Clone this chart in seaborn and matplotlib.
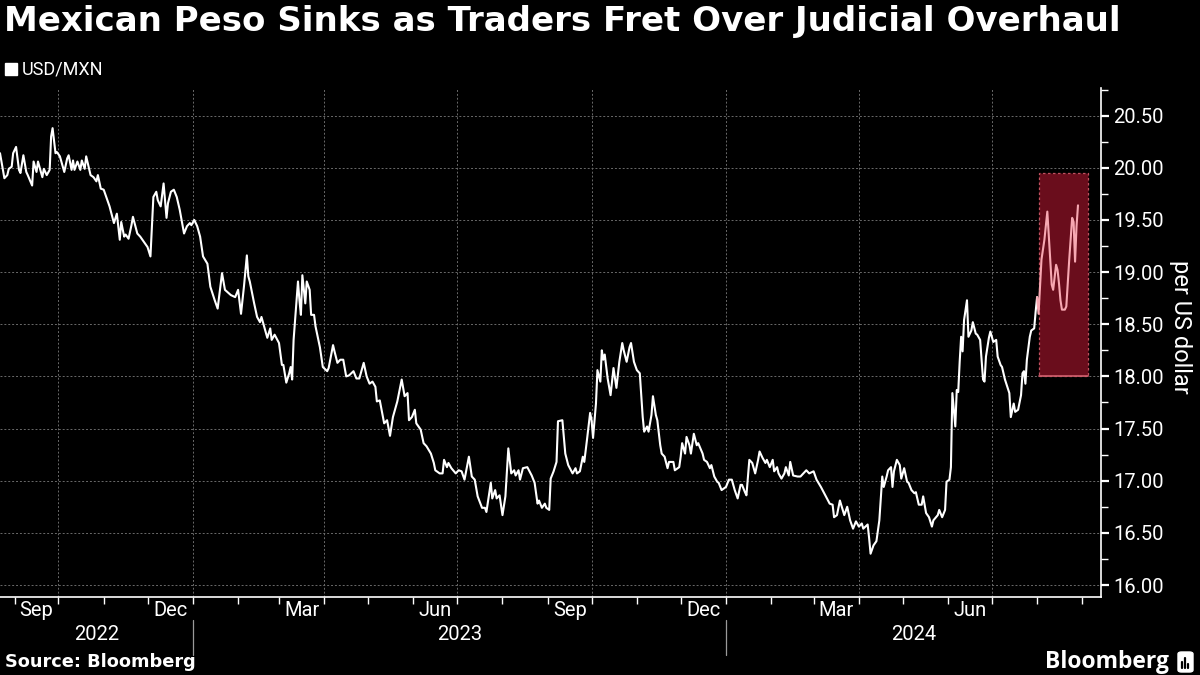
import numpy as np
import pandas as pd
import matplotlib
matplotlib.use("Agg")
import matplotlib.pyplot as plt
import matplotlib.dates as mdates
from matplotlib.patches import Rectangle, FancyBboxPatch
from matplotlib.lines import Line2D
from matplotlib.transforms import blended_transform_factory
import seaborn as sns

# ---------------- data ----------------
TITLE = "Mexican Peso Sinks as Traders Fret Over Judicial Overhaul"
SERIES = "USD/MXN"
SOURCE = "Source: Bloomberg"
BRAND = "Bloomberg"
Y_LABEL = "per US dollar"

START_DATE = "2022-09-01"          # day offsets below are counted from this date
X_MIN = "2022-08-22"
X_MAX = "2024-09-13 18:00"

day_offsets = [
    -10, -7, -5, -4, -2, -1, 1, 3, 4, 6, 8, 9, 12, 13, 15, 16, 17, 19, 20, 22, 24, 25, 26, 28, 29, 31,
    34, 36, 37, 39, 40, 41, 43, 45, 46, 48, 49, 52, 54, 56, 57, 59, 61, 63, 65, 68, 70, 72, 73, 75, 76,
    78, 80, 81, 84, 86, 89, 91, 93, 95, 97, 98, 100, 102, 104, 105, 107, 109, 111, 113, 116, 118, 120,
    121, 123, 125, 127, 129, 132, 134, 137, 139, 142, 144, 148, 151, 153, 155, 157, 159, 160, 161, 164,
    166, 168, 169,
    173, 175, 176, 178, 181, 183, 184, 186, 188, 189, 190, 191, 194, 195, 196, 197, 199, 200, 202, 203,
    205, 206, 209, 211, 214, 215, 218, 219, 221, 223, 225, 227, 229, 232, 234, 236, 239, 241, 243, 245,
    247, 248, 250, 253, 255, 257, 259, 262, 265, 267, 269, 270, 272, 274, 275, 278, 280, 282, 285, 287,
    288, 291, 293, 294, 296, 297, 299, 302, 304, 306, 308, 311, 313, 315, 317, 320, 322, 323, 326, 327,
    329, 330, 332, 334, 336, 338, 340, 342, 343, 345,
    346, 348, 351, 354, 356, 358, 359, 361, 363, 364, 366, 367, 369, 371, 372, 375, 377, 379, 382, 384,
    385, 387, 389, 390, 392, 394, 395, 396, 398, 399, 401, 402, 403, 404, 406, 408, 410, 412, 414, 416,
    417, 419, 421, 422, 424, 426, 428, 430, 431, 433, 434, 436, 437, 439, 440, 442, 443, 445, 447, 448,
    451, 452, 455, 456, 457, 459, 460, 462, 463, 465, 467, 468, 471, 472, 474, 476, 477, 479, 481, 482,
    484, 487, 489, 491, 493, 495, 497, 498, 500, 501, 503, 505, 507, 509, 510, 512, 514, 515, 517, 519,
    520, 522, 523, 525, 527, 528, 530, 531, 533, 536,
    538, 540, 542, 544, 547, 549, 552, 555, 558, 560, 561, 563, 565, 568, 570, 572, 574, 576, 578, 580,
    581, 584, 585, 586, 588, 590, 592, 594, 595, 597, 598, 600, 601, 602, 604, 606, 607, 609, 611, 612,
    614, 616, 617, 619, 621, 622, 624, 626, 628, 629, 632, 633, 635, 637, 638, 640, 641, 642, 644, 645,
    646, 647, 648, 649, 650, 652, 653, 655, 656, 658, 659, 661, 663, 664, 665, 667, 668, 670, 672, 673,
    675, 676, 678, 681, 682, 684, 685, 687, 689, 690, 691, 692, 693, 695, 696, 698, 699, 700,
    701, 703, 705, 707, 709, 710, 711, 713, 714, 715, 716, 717, 719, 720, 722, 724, 725, 726, 727, 728,
]

usd_mxn = [
    20.14, 19.90, 19.93, 19.99, 20.01, 20.14, 20.20, 19.98, 19.95, 20.12, 19.96, 19.93, 19.83, 20.06,
    19.96, 20.06, 20.01, 19.91, 19.99, 19.93, 19.98, 20.30, 20.38, 20.14, 20.15, 20.11,
    19.96, 20.09, 20.12, 19.98, 20.07, 19.98, 20.06, 19.98, 20.07, 19.99, 20.11, 19.93, 19.91, 19.87,
    19.93, 19.80, 19.79, 19.71, 19.63, 19.47, 19.56, 19.31, 19.48, 19.34, 19.36,
    19.32, 19.45, 19.53, 19.37, 19.34, 19.28, 19.24, 19.15, 19.72, 19.77, 19.69, 19.63, 19.85, 19.52,
    19.66, 19.77, 19.79, 19.72, 19.60, 19.37, 19.44, 19.47,
    19.45, 19.50, 19.44, 19.34, 19.15, 19.08, 18.86, 18.73, 18.65, 18.99, 18.83, 18.78, 18.76, 18.83,
    18.60, 18.86, 19.16, 18.96, 18.91, 18.70,
    18.57, 18.52, 18.57,
    18.37, 18.46, 18.35, 18.40, 18.32, 18.11, 18.11, 17.94, 18.03, 18.09, 17.97, 18.35, 18.91, 18.73,
    18.59, 18.97, 18.70, 18.91, 18.83, 18.59,
    18.59, 18.48, 18.28, 18.09, 18.05, 18.08, 18.30, 18.24, 18.13, 18.16, 18.16, 18.00, 18.01, 18.05,
    17.98, 17.98, 18.13, 18.00, 17.93, 17.95,
    17.90, 17.76, 17.77, 17.55, 17.58, 17.43, 17.61, 17.76, 17.97, 17.81, 17.84, 17.58, 17.61, 17.68,
    17.55, 17.49, 17.36, 17.33, 17.26, 17.17,
    17.10, 17.07, 17.07, 17.20, 17.13, 17.17, 17.12, 17.07, 17.10, 17.09, 17.01, 17.23, 17.04, 17.01,
    16.85, 16.74, 16.74, 16.70, 16.98, 16.83,
    16.91, 16.83, 16.86, 16.67, 16.85, 17.31, 17.07, 17.10, 17.05, 17.10,
    17.01, 17.12, 17.13, 17.05, 16.98, 16.78, 16.81, 16.74, 16.78, 16.74, 16.72, 17.02, 17.09, 17.18,
    17.57, 17.58, 17.26, 17.15, 17.07, 17.12,
    17.07, 17.09, 17.23, 17.18, 17.41, 17.65, 17.58, 17.41, 17.74, 18.06, 17.95, 18.25, 18.16, 18.21,
    17.98, 17.82, 18.08, 17.89, 18.14, 18.32,
    18.25, 18.14, 18.28, 18.32, 18.14, 18.06, 18.03, 17.61, 17.47, 17.52, 17.47, 17.63, 17.81, 17.63,
    17.58, 17.34, 17.26, 17.23, 17.12, 17.18,
    17.18, 17.10, 17.13, 17.23, 17.36, 17.26, 17.42, 17.34, 17.26, 17.45, 17.34, 17.36, 17.26, 17.20,
    17.18, 17.12, 17.15, 17.04, 16.99, 16.98,
    16.91, 16.94, 17.01, 17.01, 16.91, 16.83, 16.96, 16.96, 16.89, 16.86, 17.20, 17.17, 17.07, 17.20,
    17.28, 17.22, 17.17, 17.20, 17.13, 17.20,
    17.09, 17.13, 17.07, 17.02, 17.07, 17.13, 17.05, 17.18, 17.05, 17.04,
    17.04, 17.07, 17.10, 17.07, 17.09, 17.01, 16.94, 16.86, 16.78, 16.77, 16.65, 16.67, 16.81, 16.67,
    16.75, 16.62, 16.54, 16.61, 16.56, 16.59,
    16.54, 16.58, 16.45, 16.30, 16.38, 16.42, 16.62, 17.04, 16.94, 17.04, 17.10, 17.13, 16.94, 17.09,
    17.20, 17.15, 17.02, 17.12, 16.99, 16.98,
    16.91, 16.88, 16.89, 16.77, 16.77, 16.85, 16.69, 16.65, 16.56, 16.62, 16.67, 16.72, 16.65, 16.72,
    16.99, 17.01, 17.13, 17.84, 17.52, 17.87,
    17.85, 18.14, 18.38, 18.24, 18.54, 18.73, 18.38, 18.44, 18.52, 18.41, 18.40, 18.35, 17.97, 17.95,
    18.19, 18.37, 18.43, 18.33, 18.35, 18.19,
    18.11, 18.09, 17.97, 17.84, 17.61, 17.74, 17.66, 17.68, 17.82, 18.03, 18.05, 17.93, 18.16, 18.38,
    18.44, 18.46, 18.62, 18.76,
    18.60, 19.12, 19.31, 19.58, 19.12, 18.88, 18.83, 19.07, 19.02, 18.89, 18.73, 18.64, 18.64, 18.67,
    19.12, 19.52, 19.48, 19.10, 19.44, 19.64,
]

y_ticks = [16.00, 16.50, 17.00, 17.50, 18.00, 18.50, 19.00, 19.50, 20.00, 20.50]
y_limits = (15.885, 20.765)

label_months = ["2022-09", "2022-12", "2023-03", "2023-06", "2023-09", "2023-12", "2024-03", "2024-06"]
years = [2022, 2023, 2024]

highlight_start = "2024-08-02"
highlight_end = "2024-09-05"
highlight_low = 18.00
highlight_high = 19.95
highlight_line_from = "2024-08-01"

# ---------------- frame ----------------
dates = pd.Timestamp(START_DATE) + pd.to_timedelta(day_offsets, unit="D")
df = pd.DataFrame({"date": dates, "value": usd_mxn})
main = df[df["date"] <= pd.Timestamp(highlight_line_from)]
hi = df[df["date"] >= pd.Timestamp(highlight_line_from)]

# ---------------- style ----------------
sns.set_theme(style="dark")
BG = "#000000"
FG = "#ffffff"
GRID = "#6a6a6a"
plt.rcParams["font.family"] = ["Roboto", "DejaVu Sans"]
plt.rcParams["axes.facecolor"] = BG
plt.rcParams["figure.facecolor"] = BG
BOLD_FAMILY = ["DejaVu Sans"]

fig = plt.figure(figsize=(12, 6.75), dpi=100)
ax = fig.add_axes([0.0, 1 - 597 / 675, 1101 / 1200, (597 - 88) / 675])
ax.set_facecolor(BG)

# highlight rectangle
x0 = mdates.date2num(pd.Timestamp(highlight_start))
x1 = mdates.date2num(pd.Timestamp(highlight_end))
ax.add_patch(Rectangle((x0, highlight_low), x1 - x0, highlight_high - highlight_low,
                       facecolor="#6a0d1c", edgecolor="#c0505f", lw=0.9,
                       linestyle=(0, (2, 2)), zorder=1))
ax.plot([x0, x1], [highlight_low, highlight_low], color="#d0606e", lw=1.2, zorder=1.1)

sns.lineplot(data=main, x="date", y="value", color=FG, lw=1.5, ax=ax,
             estimator=None, sort=False, zorder=3)
sns.lineplot(data=hi, x="date", y="value", color="#f7a8b2", lw=1.5, ax=ax,
             estimator=None, sort=False, zorder=3)

ax.set_xlim(pd.Timestamp(X_MIN), pd.Timestamp(X_MAX))
ax.set_ylim(*y_limits)

# grids
ax.set_yticks(y_ticks)
ax.yaxis.grid(True, color=GRID, lw=0.7, linestyle=(0, (2, 2)), zorder=2)
for q in pd.date_range("2022-10-01", "2024-09-01", freq="QS-JAN"):
    ax.axvline(q, color=GRID, lw=0.7, linestyle=(0, (2, 2)), zorder=2)
ax.xaxis.grid(False)

# spines
for s in ["left", "top"]:
    ax.spines[s].set_visible(False)
for s in ["right", "bottom"]:
    ax.spines[s].set_visible(True)
    ax.spines[s].set_color(FG)
    ax.spines[s].set_linewidth(1.2)

# y axis on the right
ax.yaxis.tick_right()
ax.yaxis.set_label_position("right")
ax.set_yticklabels([f"{v:.2f}" for v in y_ticks])
ax.yaxis.set_minor_locator(matplotlib.ticker.MultipleLocator(0.25))
ax.tick_params(axis="y", which="major", right=True, length=6, width=1.6, color=FG,
               labelcolor=FG, labelsize=14.5, pad=3)
ax.tick_params(axis="y", which="minor", right=True, length=5, width=1.0, color=FG)
ax.set_ylabel(Y_LABEL, color=FG, fontsize=17, rotation=270, labelpad=0)
ax.yaxis.set_label_coords(1.083, 0.53)

# x axis: month labels centred in their month, month boundary ticks
lab_pos = []
for m in label_months:
    st = pd.Timestamp(m + "-01")
    lab_pos.append(st + pd.Timedelta(days=st.days_in_month / 2))
ax.set_xticks(lab_pos)
ax.set_xticklabels([pd.Timestamp(m + "-01").strftime("%b") for m in label_months])
ax.xaxis.set_minor_locator(mdates.MonthLocator())
ax.tick_params(axis="x", which="major", bottom=True, length=0, labelcolor=FG,
               labelsize=14.5, pad=3)
ax.tick_params(axis="x", which="minor", bottom=True, length=5, width=1.0, color=FG)
ax.set_xlabel("")

trans = blended_transform_factory(ax.transData, ax.transAxes)
xmin_num, xmax_num = ax.get_xlim()
for yr in years:
    a = max(xmin_num, mdates.date2num(pd.Timestamp(f"{yr}-01-01")))
    b = min(xmax_num, mdates.date2num(pd.Timestamp(f"{yr + 1}-01-01")))
    ax.text((a + b) / 2, -0.074, str(yr), transform=trans, ha="center", va="center",
            color=FG, fontsize=14.5)
    if yr > years[0]:
        ax.plot([a, a], [-0.045, -0.114], transform=trans, color="#9a9a9a", lw=0.9,
                clip_on=False)

# title, legend, source
fig.text(0.003, 1 - 22 / 675, TITLE, color=FG, fontsize=24.5, fontweight="bold",
         family=BOLD_FAMILY, va="center", ha="left")
fig.legend(handles=[Line2D([], [], marker="s", color=FG, linestyle="None", markersize=9)],
           labels=[SERIES], loc="center left", bbox_to_anchor=(0.002, 1 - 70 / 675),
           frameon=False, fontsize=13, handlelength=0.7, handletextpad=0.25,
           borderaxespad=0, borderpad=0.1, labelcolor=FG)
fig.text(0.004, 1 - 662 / 675, SOURCE, color=FG, fontsize=12.8, fontweight="bold",
         family=BOLD_FAMILY, va="center", ha="left")
fig.text(0.974, 1 - 662 / 675, BRAND, color=FG, fontsize=16.5, fontweight="bold",
         family=["Open Sans", "DejaVu Sans"], va="center", ha="right")
fig.patches.append(FancyBboxPatch((1178 / 1200, 1 - 672 / 675), 15 / 1200, 20 / 675,
                                  boxstyle="round,pad=0.0,rounding_size=0.003",
                                  transform=fig.transFigure, facecolor=FG, edgecolor=FG))
for bx, bh in [(1182, 6), (1185, 10), (1188, 4)]:
    fig.add_artist(Line2D([bx / 1200, bx / 1200], [1 - 668 / 675, 1 - (668 - bh) / 675],
                          transform=fig.transFigure, color=BG, lw=1.6))

fig.savefig("out.png", dpi=100, facecolor=BG)
